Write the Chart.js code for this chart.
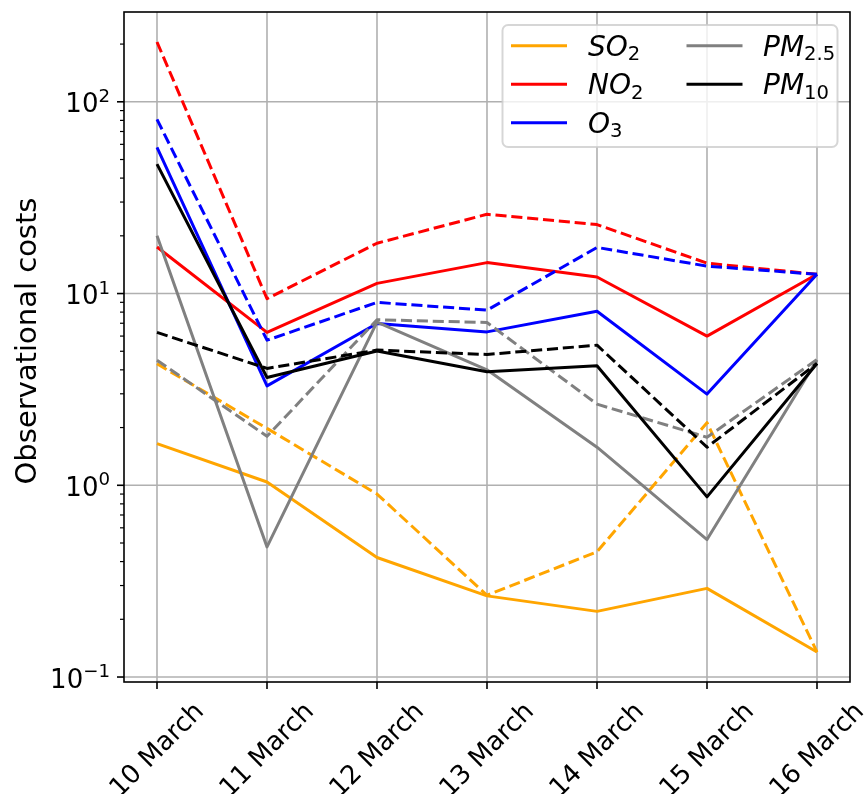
<!DOCTYPE html>
<html>
<head>
<meta charset="utf-8">
<script src="https://cdn.jsdelivr.net/npm/chart.js@4/dist/chart.umd.min.js"></script>
<style>
html,body{margin:0;padding:0;background:#fff;}
#wrap{width:865px;height:794px;position:relative;}
</style>
</head>
<body>
<div id="wrap"><canvas id="c"></canvas></div>
<script>
// ---- data ----
const days = ['10 March','11 March','12 March','13 March','14 March','15 March','16 March'];
const so2        = [1.65, 1.04, 0.42, 0.265, 0.22, 0.29, 0.135];
const so2Dashed  = [4.3, 1.98, 0.9, 0.267, 0.45, 2.12, 0.135];
const no2        = [17.5, 6.27, 11.3, 14.5, 12.2, 6.0, 12.6];
const no2Dashed  = [205, 9.4, 18.3, 25.9, 22.9, 14.4, 12.6];
const o3         = [57.8, 3.30, 6.98, 6.31, 8.09, 2.99, 12.6];
const o3Dashed   = [81, 5.71, 8.99, 8.19, 17.4, 13.9, 12.6];
const pm25       = [20.0, 0.477, 7.1, 4.0, 1.58, 0.521, 4.5];
const pm25Dashed = [4.49, 1.80, 7.3, 7.06, 2.65, 1.78, 4.53];
const pm10       = [47.3, 3.65, 5.02, 3.91, 4.20, 0.87, 4.32];
const pm10Dashed = [6.27, 4.07, 5.07, 4.81, 5.38, 1.58, 4.32];
const yTickValues = [0.1, 1, 10, 100];
const yTickExps   = ['\u22121', '0', '1', '2'];
const seriesMain  = ['SO', 'NO', 'O', 'PM', 'PM'];
const seriesSub   = ['2', '2', '3', '2.5', '10'];
const yTitle = 'Observational costs';

// ---- styles ----
const colors = ['#FFA500', '#FF0000', '#0000FF', '#808080', '#000000'];
const solidSeries  = [so2, no2, o3, pm25, pm10];
const dashedSeries = [so2Dashed, no2Dashed, o3Dashed, pm25Dashed, pm10Dashed];
const FONT = '"DejaVu Sans", sans-serif';
const LW = 3;
const DASH = [11.1, 4.8];
const XFS = 26;

const datasets = [];
solidSeries.forEach((arr, k) => {
  datasets.push({label: seriesMain[k] + seriesSub[k], data: arr.map((v, i) => ({x: i, y: v})),
    borderColor: colors[k], borderWidth: LW, pointRadius: 0, tension: 0, fill: false,
    borderCapStyle: 'butt', borderJoinStyle: 'round'});
  datasets.push({label: seriesMain[k] + seriesSub[k] + ' (dashed)', data: dashedSeries[k].map((v, i) => ({x: i, y: v})),
    borderColor: colors[k], borderWidth: LW, borderDash: DASH, pointRadius: 0, tension: 0, fill: false,
    borderCapStyle: 'butt', borderJoinStyle: 'round'});
});
const N = datasets.length;
datasets.forEach((d, i) => { d.order = N - i; });

function line(ctx, x1, y1, x2, y2) { ctx.beginPath(); ctx.moveTo(x1, y1); ctx.lineTo(x2, y2); ctx.stroke(); }

const mplPlugin = {
  id: 'mpl',
  beforeDatasetsDraw(chart) {
    const {ctx, chartArea: a, scales: {x, y}} = chart;
    ctx.save();
    ctx.strokeStyle = '#b0b0b0';
    ctx.lineWidth = 1.6;
    days.forEach((d, i) => { const px = x.getPixelForValue(i); line(ctx, px, a.top, px, a.bottom); });
    yTickValues.forEach(v => { const py = y.getPixelForValue(v); line(ctx, a.left, py, a.right, py); });
    ctx.restore();
  },
  afterDatasetsDraw(chart) {
    const {ctx, chartArea: a, scales: {x, y}} = chart;
    ctx.save();
    // spines
    ctx.strokeStyle = '#000'; ctx.lineWidth = 1.6;
    ctx.strokeRect(a.left, a.top, a.right - a.left, a.bottom - a.top);
    // x ticks + labels
    ctx.lineWidth = 1.6;
    days.forEach((d, i) => {
      const px = x.getPixelForValue(i);
      line(ctx, px, a.bottom, px, a.bottom + 7);
      ctx.save();
      ctx.translate(px - 1.5, 748.5);
      ctx.rotate(-Math.PI / 4);
      ctx.font = XFS + 'px ' + FONT;
      ctx.fillStyle = '#000';
      ctx.textAlign = 'center';
      ctx.textBaseline = 'alphabetic';
      ctx.fillText(d, 0, 0.37 * XFS);
      ctx.restore();
    });
    // y major ticks + labels
    yTickValues.forEach((v, k) => {
      const py = y.getPixelForValue(v);
      ctx.lineWidth = 1.6;
      line(ctx, a.left, py, a.left - 7, py);
      ctx.fillStyle = '#000';
      ctx.textAlign = 'left';
      ctx.textBaseline = 'alphabetic';
      ctx.font = '26px ' + FONT;
      const w1 = ctx.measureText('10').width;
      ctx.font = '18.2px ' + FONT;
      const w2 = ctx.measureText(yTickExps[k]).width;
      const sx = 110 - w1 - w2;
      ctx.font = '26px ' + FONT;
      ctx.fillText('10', sx, py + 10.6);
      ctx.font = '18.2px ' + FONT;
      ctx.fillText(yTickExps[k], sx + w1, py);
    });
    // y minor ticks
    ctx.lineWidth = 1.2;
    for (let e = -2; e <= 3; e++) {
      for (let m = 2; m <= 9; m++) {
        const v = m * Math.pow(10, e);
        if (v < y.min || v > y.max) continue;
        const py = y.getPixelForValue(v);
        line(ctx, a.left, py, a.left - 4, py);
      }
    }
    // y title
    ctx.save();
    ctx.translate(36, 341);
    ctx.rotate(-Math.PI / 2);
    ctx.font = '29px ' + FONT;
    ctx.fillStyle = '#000';
    ctx.textAlign = 'center';
    ctx.textBaseline = 'alphabetic';
    ctx.fillText(yTitle, 0, 0);
    ctx.restore();

    // legend
    const bx = 502.5, by = 25, bw = 335, bh = 122, r = 5.6;
    ctx.beginPath();
    ctx.moveTo(bx + r, by);
    ctx.lineTo(bx + bw - r, by); ctx.arcTo(bx + bw, by, bx + bw, by + r, r);
    ctx.lineTo(bx + bw, by + bh - r); ctx.arcTo(bx + bw, by + bh, bx + bw - r, by + bh, r);
    ctx.lineTo(bx + r, by + bh); ctx.arcTo(bx, by + bh, bx, by + bh - r, r);
    ctx.lineTo(bx, by + r); ctx.arcTo(bx, by, bx + r, by, r);
    ctx.closePath();
    ctx.fillStyle = 'rgba(255,255,255,0.8)';
    ctx.fill();
    ctx.strokeStyle = 'rgba(204,204,204,0.8)';
    ctx.lineWidth = 2;
    ctx.stroke();
    const slots = [[0,0],[0,1],[0,2],[1,0],[1,1]];
    const lineX = [[511, 567], [686.5, 742.5]];
    const textX = [588, 763];
    seriesMain.forEach((name, k) => {
      const [col, row] = slots[k];
      const ry = 45.7 + 38.5 * row;
      ctx.strokeStyle = colors[k];
      ctx.lineWidth = LW;
      ctx.setLineDash([]);
      line(ctx, lineX[col][0], ry, lineX[col][1], ry);
      ctx.fillStyle = '#000';
      ctx.textAlign = 'left';
      ctx.textBaseline = 'alphabetic';
      let cx = textX[col];
      const base = ry + 9.8;
      ctx.font = 'italic 28px ' + FONT;
      ctx.fillText(name, cx, base);
      cx += ctx.measureText(name).width;
      ctx.font = '19.6px ' + FONT;
      ctx.fillText(seriesSub[k], cx, base + 4.5);
    });
    ctx.restore();
  }
};

new Chart(document.getElementById('c'), {
  type: 'line',
  data: {datasets},
  options: {
    responsive: true,
    maintainAspectRatio: false,
    animation: false,
    layout: {padding: {left: 124, right: 15, top: 12, bottom: 112}},
    plugins: {legend: {display: false}, tooltip: {enabled: false}},
    scales: {
      x: {type: 'linear', display: false, min: -0.3, max: 6.3},
      y: {type: 'logarithmic', display: false, min: 0.0942, max: 294}
    }
  },
  plugins: [mplPlugin]
});
</script>
</body>
</html>
